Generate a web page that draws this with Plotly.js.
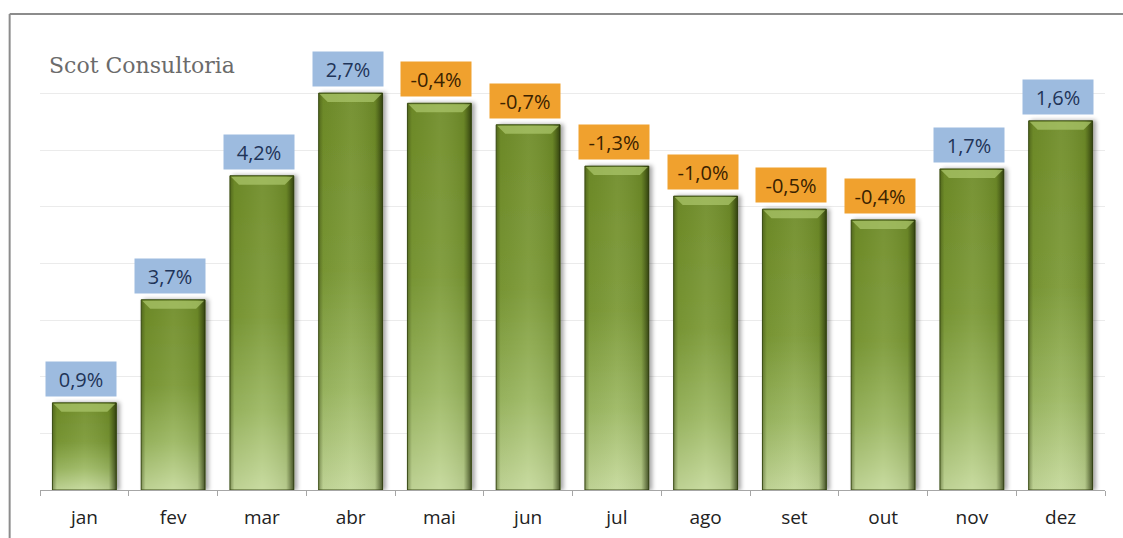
<!DOCTYPE html>
<html>
<head>
<meta charset="utf-8">
<script src="https://cdn.plot.ly/plotly-3.0.1.min.js"></script>
<style>
  html, body { margin: 0; padding: 0; background: #ffffff; }
  #chart { width: 1123px; height: 538px; }
</style>
</head>
<body>
<div id="chart"></div>
<script>
// Data
const months = ["jan", "fev", "mar", "abr", "mai", "jun", "jul", "ago", "set", "out", "nov", "dez"];
const barValues = [1.54, 3.36, 5.55, 7.01, 6.83, 6.45, 5.72, 5.19, 4.96, 4.77, 5.67, 6.52];
const changeLabels = ["0,9%", "3,7%", "4,2%", "2,7%", "-0,4%", "-0,7%", "-1,3%", "-1,0%", "-0,5%", "-0,4%", "1,7%", "1,6%"];
const changeValues = [0.9, 3.7, 4.2, 2.7, -0.4, -0.7, -1.3, -1.0, -0.5, -0.4, 1.7, 1.6];
const sourceText = "Scot Consultoria";

const posBox = "#9dbbdf", posText = "#1f3458";
const negBox = "#f0a12e", negText = "#3a2200";

const trace = {
  type: "bar",
  x: months,
  y: barValues,
  marker: { color: "#7d9a3a", line: { color: "#3d4f15", width: 1 } },
  hoverinfo: "skip"
};

const annotations = months.map((m, i) => ({
  x: m, y: barValues[i], xref: "x", yref: "y",
  text: changeLabels[i],
  showarrow: false,
  yanchor: "bottom",
  yshift: 6, xshift: -3,
  width: 62, height: 26,
  borderpad: 4,
  bgcolor: changeValues[i] >= 0 ? posBox : negBox,
  font: { family: "Open Sans, sans-serif", size: 20, color: changeValues[i] >= 0 ? posText : negText }
}));

annotations.push({
  xref: "paper", yref: "paper",
  x: 0.0065, y: 0.938, xanchor: "left", yanchor: "middle",
  text: sourceText, showarrow: false,
  font: { family: "DejaVu Serif, serif", size: 22, color: "#6b6b6b" }
});

const layout = {
  width: 1123, height: 538,
  margin: { l: 40, r: 18, t: 37, b: 48 },
  paper_bgcolor: "#ffffff",
  plot_bgcolor: "#ffffff",
  bargap: 0.28,
  showlegend: false,
  xaxis: {
    type: "category",
    showline: true, linecolor: "#a6a6a6", linewidth: 1,
    ticks: "outside", tickson: "boundaries", ticklen: 5, tickcolor: "#a6a6a6",
    ticklabelstandoff: 10,
    tickfont: { family: "Open Sans, sans-serif", size: 19, color: "#222222" },
    showgrid: false, zeroline: false, fixedrange: true
  },
  yaxis: {
    range: [0, 8], dtick: 1,
    showticklabels: false, ticks: "",
    showgrid: true, gridcolor: "#ebebeb", gridwidth: 1,
    zeroline: false, showline: false, fixedrange: true
  },
  annotations: annotations,
  shapes: [
    { type: "line", xref: "paper", yref: "paper", x0: -0.0285, x1: 1.03, y0: 1.051, y1: 1.051,
      line: { color: "#8c8c8c", width: 2 } },
    { type: "line", xref: "paper", yref: "paper", x0: -0.0285, x1: -0.0285, y0: 1.051, y1: -0.2,
      line: { color: "#8c8c8c", width: 2 } }
  ]
};

Plotly.newPlot("chart", [trace], layout, { staticPlot: true, displayModeBar: false }).then(() => {
  const svgNS = "http://www.w3.org/2000/svg";
  const svg = document.querySelector("#chart .main-svg");
  const defs = document.createElementNS(svgNS, "defs");
  defs.innerHTML =
    '<linearGradient id="vgrad" x1="0" y1="0" x2="0" y2="1">' +
      '<stop offset="0" stop-color="#6f8c28"/>' +
      '<stop offset="0.45" stop-color="#7b9936"/>' +
      '<stop offset="0.75" stop-color="#9cb862"/>' +
      '<stop offset="1" stop-color="#c5d99b"/>' +
    '</linearGradient>' +
    '<linearGradient id="hgrad" x1="0" y1="0" x2="1" y2="0">' +
      '<stop offset="0" stop-color="#2e3c0c" stop-opacity="0.45"/>' +
      '<stop offset="0.07" stop-color="#2e3c0c" stop-opacity="0.05"/>' +
      '<stop offset="0.5" stop-color="#ffffff" stop-opacity="0.06"/>' +
      '<stop offset="0.88" stop-color="#2e3c0c" stop-opacity="0.1"/>' +
      '<stop offset="1" stop-color="#1e2806" stop-opacity="0.75"/>' +
    '</linearGradient>' +
    '<filter id="bshadow" x="-20%" y="-5%" width="140%" height="110%">' +
      '<feDropShadow dx="3" dy="0" stdDeviation="2" flood-color="#000" flood-opacity="0.35"/>' +
    '</filter>';
  svg.insertBefore(defs, svg.firstChild);
  document.querySelectorAll("#chart .bars .point path").forEach(p => {
    p.style.fill = "url(#vgrad)";
    p.style.filter = "url(#bshadow)";
    const c = p.cloneNode(true);
    c.style.fill = "url(#hgrad)";
    c.style.filter = "none";
    c.style.stroke = "none";
    p.parentNode.appendChild(c);
    // top bevel highlight
    const bb = p.getBBox();
    const bev = document.createElementNS(svgNS, "path");
    const x0 = bb.x, x1 = bb.x + bb.width, y0 = bb.y, h = 9, ins = 9;
    bev.setAttribute("d", `M${x0+1},${y0+1} L${x1-1},${y0+1} L${x1-ins},${y0+h} L${x0+ins},${y0+h} Z`);
    bev.setAttribute("fill", "#a9c46a");
    bev.setAttribute("fill-opacity", "0.75");
    p.parentNode.appendChild(bev);
  });
});
</script>
</body>
</html>
